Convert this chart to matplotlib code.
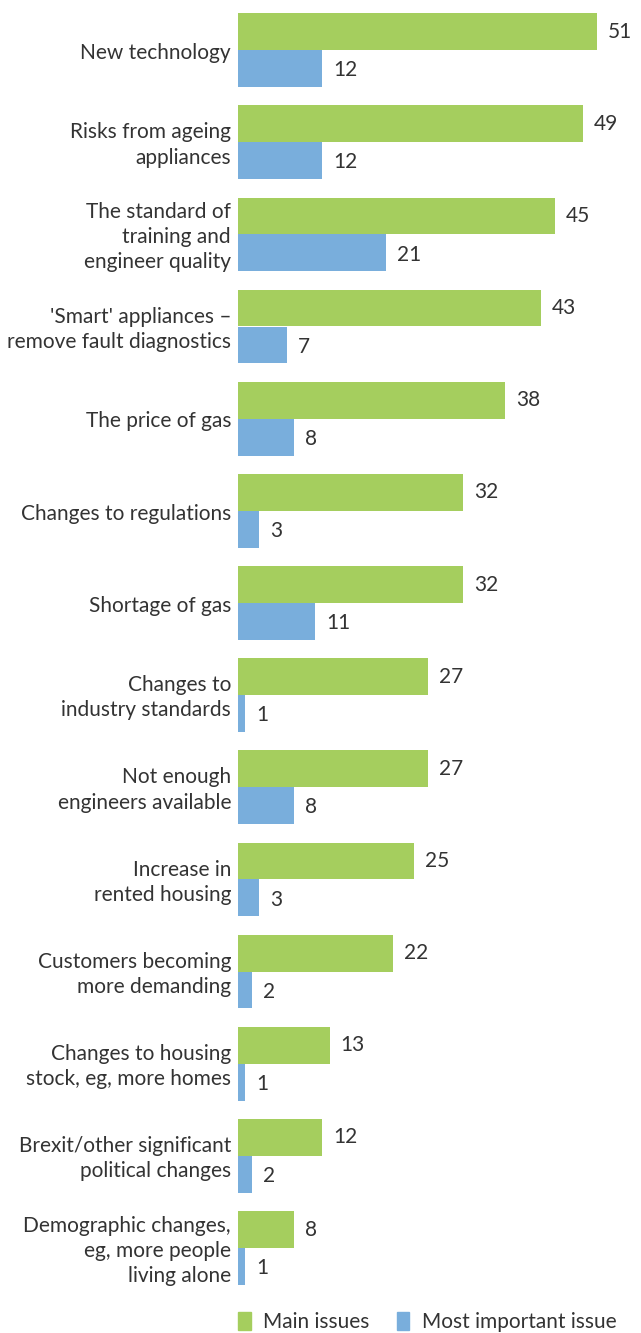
import numpy as np
import matplotlib.pyplot as plt
from matplotlib.patches import Patch

# 问题类别及两组百分比
issues = [
    "New technology",
    "Risks from ageing\nappliances",
    "The standard of\ntraining and\nengineer quality",
    "'Smart' appliances –\nremove fault diagnostics",
    "The price of gas",
    "Changes to regulations",
    "Shortage of gas",
    "Changes to\nindustry standards",
    "Not enough\nengineers available",
    "Increase in\nrented housing",
    "Customers becoming\nmore demanding",
    "Changes to housing\nstock, eg, more homes",
    "Brexit/other significant\npolitical changes",
    "Demographic changes,\neg, more people\nliving alone",
]
main_issues = [51, 49, 45, 43, 38, 32, 32, 27, 27, 25, 22, 13, 12, 8]
most_important = [12, 12, 21, 7, 8, 3, 11, 1, 8, 3, 2, 1, 2, 1]

GREEN = "#a5ce5e"
BLUE = "#79aedc"
TEXT = "#333333"

plt.rcParams["font.family"] = ["Lato", "DejaVu Sans"]

W, H = 641, 1333
fig = plt.figure(figsize=(W / 100, H / 100), dpi=100)
ax_left, ax_right = 238, 630
ax_top, ax_bottom = 4, 1294
ax = fig.add_axes([ax_left / W, 1 - ax_bottom / H,
                   (ax_right - ax_left) / W, (ax_bottom - ax_top) / H])

px_per_unit = (597 - ax_left) / 51
ax.set_xlim(0, (ax_right - ax_left) / px_per_unit)
ax.set_ylim(len(issues) - 0.5, -0.5)

y = np.arange(len(issues))
h = 0.4
ax.barh(y - h / 2, main_issues, height=h, color=GREEN)
ax.barh(y + h / 2, most_important, height=h, color=BLUE)

# 数值标签
off = 11 / px_per_unit
for yi, v in zip(y, main_issues):
    ax.text(v + off, yi - h / 2, str(v), ha="left", va="center",
            fontsize=15, color=TEXT)
for yi, v in zip(y, most_important):
    ax.text(v + off, yi + h / 2 + 0.02, str(v), ha="left", va="center",
            fontsize=15, color=TEXT)

# 类别标签
for yi, lab in zip(y, issues):
    ax.text(-7 / px_per_unit, yi + 0.03, lab, ha="right", va="center",
            fontsize=15, color=TEXT, linespacing=1.32)

ax.set_xticks([])
ax.set_yticks([])
for s in ax.spines.values():
    s.set_visible(False)

handles = [Patch(color=GREEN, label="Main issues"),
           Patch(color=BLUE, label="Most important issue")]
fig.legend(handles=handles, loc="center left",
           bbox_to_anchor=(230 / W, 1 - 1322 / H), ncol=2, frameon=False,
           borderaxespad=0, handlelength=0.6, handleheight=1.0,
           handletextpad=0.6, columnspacing=1.3, fontsize=15,
           labelcolor=TEXT)

fig.savefig("out.png", dpi=100)
